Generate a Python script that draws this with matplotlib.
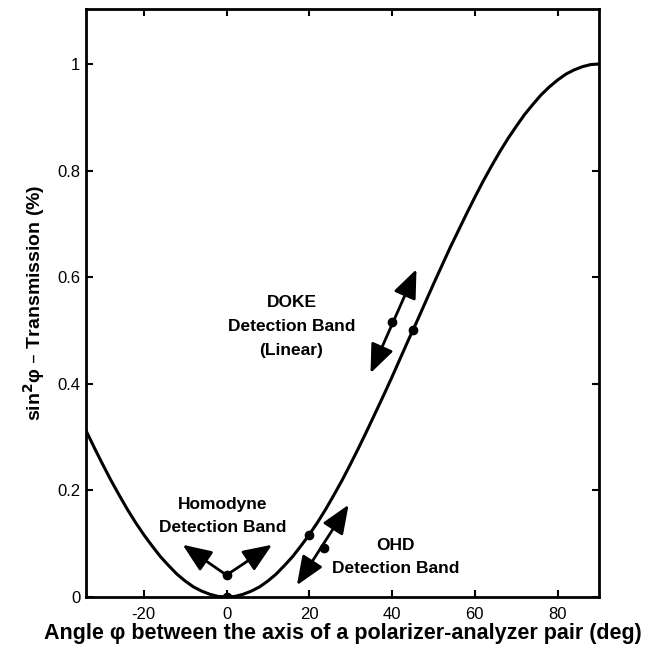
import matplotlib
matplotlib.use("Agg")
import matplotlib.pyplot as plt
import numpy as np

plt.rcParams['font.family'] = ['Liberation Sans', 'DejaVu Sans']
plt.rcParams['axes.unicode_minus'] = False

# Transmission curve through crossed polarizers (angle in degrees)
angle_deg = list(range(-34, 91, 2))
transmission = [
    0.313, 0.281, 0.250, 0.220, 0.192, 0.165, 0.140, 0.117, 0.096, 0.076,
    0.059, 0.043, 0.030, 0.019, 0.011, 0.005, 0.001, 0.000, 0.001, 0.005,
    0.011, 0.019, 0.030, 0.043, 0.059, 0.076, 0.096, 0.117, 0.140, 0.165,
    0.192, 0.220, 0.250, 0.281, 0.313, 0.346, 0.379, 0.413, 0.448, 0.483,
    0.517, 0.552, 0.587, 0.621, 0.655, 0.687, 0.719, 0.750, 0.780, 0.808,
    0.835, 0.860, 0.883, 0.905, 0.924, 0.942, 0.957, 0.970, 0.981, 0.989,
    0.995, 0.999, 1.000,
]

# Operating points marked on the curve
curve_pts_x = [0, 20, 45]
curve_pts_y = [0.0, 0.117, 0.5]

# Band markers (dot on each arrow)
band_dot_x = [0, 23.5, 40]
band_dot_y = [0.041, 0.092, 0.516]

# Homodyne band: two arrows from the centre dot
homodyne_center = (0, 0.041)
homodyne_tips = [(-10.6, 0.098), (11.0, 0.098)]
# Double-headed arrows for OHD and DOKE bands
ohd_arrow = [(17.0, 0.022), (29.5, 0.173)]
doke_arrow = [(34.8, 0.42), (45.9, 0.615)]

fig = plt.figure(figsize=(6.5, 6.52), dpi=100)
ax = fig.add_axes([0.132, 0.0844, 0.7895, 0.9016])

ax.plot(angle_deg, transmission, color='black', lw=2.2, zorder=3)
ax.plot(curve_pts_x, curve_pts_y, 'o', color='black', ms=6, zorder=4)
ax.plot(band_dot_x, band_dot_y, 'o', color='black', ms=6, zorder=4)

arrow_props = dict(arrowstyle='-|>,head_length=1.1,head_width=0.45',
                   color='black', lw=2.0, mutation_scale=16,
                   shrinkA=0, shrinkB=0)
for tip in homodyne_tips:
    ax.annotate('', xy=tip, xytext=homodyne_center, arrowprops=arrow_props)

dbl_props = dict(arrow_props)
dbl_props['arrowstyle'] = '<|-|>,head_length=1.1,head_width=0.45'
for a, b in (ohd_arrow, doke_arrow):
    ax.annotate('', xy=b, xytext=a, arrowprops=dbl_props)

txt = dict(ha='center', va='center', fontsize=12.5, fontweight='bold')
ax.text(15.7, 0.552, 'DOKE', **txt)
ax.text(15.7, 0.507, 'Detection Band', **txt)
ax.text(15.7, 0.462, '(Linear)', **txt)
ax.text(-1, 0.173, 'Homodyne', **txt)
ax.text(-1, 0.130, 'Detection Band', **txt)
ax.text(40.8, 0.096, 'OHD', **txt)
ax.text(40.8, 0.054, 'Detection Band', **txt)

ax.set_xlim(-34, 90)
ax.set_ylim(0, 1.103)
ax.set_xticks([-20, 0, 20, 40, 60, 80])
ax.set_yticks([0, 0.2, 0.4, 0.6, 0.8, 1.0])
ax.set_yticklabels(['0', '0.2', '0.4', '0.6', '0.8', '1'])
ax.tick_params(direction='in', top=True, right=True, length=5, width=1.5,
               labelsize=12)
ax.tick_params(axis='x', pad=7)
ax.tick_params(axis='y', pad=4)
for s in ax.spines.values():
    s.set_linewidth(2.0)

ax.set_xlabel('Angle \u03c6 between the axis of a polarizer-analyzer pair (deg)',
              fontsize=15.5, fontweight='bold', labelpad=1)
ax.set_ylabel('sin$^{\\mathbf{2}}$\u03c6 \u2013 Transmission (%)', fontsize=14,
              fontweight='bold', labelpad=7)

fig.savefig('out.png', dpi=100)
